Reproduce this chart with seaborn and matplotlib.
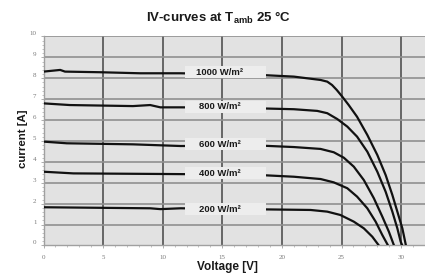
"""IV-curves of a PV module at Tamb 25 degC, five irradiance levels."""
import matplotlib

matplotlib.use("Agg")
import matplotlib.pyplot as plt
import matplotlib.transforms as mtransforms
from matplotlib.patches import Rectangle
from matplotlib.ticker import MultipleLocator
import pandas as pd
import seaborn as sns

# ---------------------------------------------------------------------------
# Data (voltage [V], current [A])
# ---------------------------------------------------------------------------
irradiance = ["1000 W/m²", "800 W/m²", "600 W/m²", "400 W/m²", "200 W/m²"]

v_1000 = [0, 1.4, 1.8, 4.75, 8.1, 11.5, 15, 18.2, 21.0, 23.24, 23.8, 24.2, 24.6,
          25.06, 25.6, 26.3, 27.16, 28.0, 28.7, 29.26, 29.68, 30.1, 30.4]
i_1000 = [8.32, 8.40, 8.32, 8.29, 8.24, 8.24, 8.20, 8.16, 8.08, 7.92, 7.84, 7.68, 7.44,
          7.12, 6.72, 6.16, 5.29, 4.33, 3.37, 2.42, 1.62, 0.82, 0.0]

v_800 = [0, 2.2, 7.5, 8.95, 9.8, 11.5, 15, 18.2, 21.0, 22.96, 23.8, 24.64, 25.48,
         26.3, 27.16, 28.0, 28.7, 29.26, 29.68, 29.96, 30.1]
i_800 = [6.80, 6.72, 6.67, 6.72, 6.61, 6.61, 6.60, 6.56, 6.52, 6.44, 6.33, 6.05, 5.69,
         5.21, 4.49, 3.53, 2.57, 1.62, 0.82, 0.18, 0.0]

v_600 = [0, 1.95, 7.5, 11.5, 15, 18.2, 21.0, 23.24, 24.35, 25.19, 26.03, 26.87,
         27.71, 28.42, 28.97, 29.4]
i_600 = [4.97, 4.89, 4.84, 4.76, 4.77, 4.78, 4.71, 4.62, 4.46, 4.20, 3.77, 3.13,
         2.26, 1.38, 0.66, 0.0]

v_400 = [0, 2.5, 10.35, 15, 18.2, 21.0, 23.24, 24.35, 25.48, 26.3, 27.16, 27.86,
         28.42, 28.9]
i_400 = [3.53, 3.45, 3.42, 3.40, 3.37, 3.29, 3.18, 3.02, 2.74, 2.34, 1.78, 1.14,
         0.50, 0.0]

v_200 = [0, 8.95, 9.8, 11.5, 15, 18.2, 22.4, 23.8, 24.9, 26.03, 26.87, 27.58, 28.13]
i_200 = [1.83, 1.78, 1.74, 1.78, 1.75, 1.73, 1.70, 1.62, 1.46, 1.14, 0.82, 0.42, 0.0]

label_y = [8.29, 6.64, 4.84, 3.45, 1.73]

x_ticks = [0, 5, 10, 15, 20, 25, 30]
y_ticks = list(range(0, 11))

# ---------------------------------------------------------------------------
# Long table for seaborn
# ---------------------------------------------------------------------------
curves = [(v_1000, i_1000), (v_800, i_800), (v_600, i_600), (v_400, i_400), (v_200, i_200)]
frames = []
for name, (v, i) in zip(irradiance, curves):
    frames.append(pd.DataFrame({"voltage": v, "current": i, "irradiance": name}))
df = pd.concat(frames, ignore_index=True)

sns.set_theme(style="whitegrid")
plt.rcParams["font.family"] = ["Liberation Sans", "DejaVu Sans"]
plt.rcParams["mathtext.fontset"] = "custom"
plt.rcParams["mathtext.bf"] = "Liberation Sans:bold"
plt.rcParams["mathtext.rm"] = "Liberation Sans:bold"
plt.rcParams["mathtext.default"] = "bf"

fig = plt.figure(figsize=(4.25, 2.75), dpi=100)
ax = fig.add_axes([0.1024, 0.1073, 0.8976, 0.760])
ax.set_facecolor("#e2e2e2")

sns.lineplot(
    data=df, x="voltage", y="current", hue="irradiance",
    palette=["#111111"] * len(irradiance), sort=False, estimator=None,
    legend=False, linewidth=1.6, ax=ax, zorder=3,
)

ax.set_xlim(0, 32)
ax.set_ylim(0, 10)
ax.set_xticks(x_ticks)
ax.set_yticks(y_ticks)
ax.xaxis.set_minor_locator(MultipleLocator(1))
ax.yaxis.set_minor_locator(MultipleLocator(0.2))

# grid: darker verticals, lighter horizontals
ax.grid(False)
for xv in x_ticks[1:]:
    ax.axvline(xv, color="#5c5c5c", lw=1.3, zorder=1)
for yv in y_ticks[1:]:
    ax.axhline(yv, color="#909090", lw=1.2, zorder=1)

for side in ["top", "right"]:
    ax.spines[side].set_visible(False)
for side in ["left", "bottom"]:
    ax.spines[side].set_color("#a0a0a0")
    ax.spines[side].set_linewidth(1.0)

ax.tick_params(axis="both", which="major", length=2.5, width=0.6, color="#a0a0a0",
               labelsize=5, labelcolor="#7a7a7a", pad=4)
ax.tick_params(axis="both", which="minor", length=1.5, width=0.5, color="#a8a8a8")
ax.tick_params(axis="y", which="both", left=True)
ax.tick_params(axis="x", which="both", bottom=True)
for lab in ax.get_xticklabels() + ax.get_yticklabels():
    lab.set_family(["Liberation Serif", "DejaVu Serif"])
# tick numbers on the y axis sit a little above their gridlines in the original
shift = mtransforms.ScaledTranslation(0.02, 3 / 100, fig.dpi_scale_trans)
for lab in ax.get_yticklabels():
    lab.set_transform(lab.get_transform() + shift)

# irradiance labels on light boxes covering the curves
for name, yv in zip(irradiance, label_y):
    ax.add_patch(Rectangle((11.9, yv - 0.29), 6.8, 0.58, facecolor="#ededed",
                           edgecolor="none", zorder=4))
    ax.text(14.8, yv, name, ha="center", va="center", fontsize=6.8,
            fontweight="bold", color="#1a1a1a", zorder=5)

ax.set_xlabel("")
ax.set_ylabel("")
fig.text(0.535, 0.006, "Voltage [V]", ha="center", va="bottom",
         fontsize=8.5, fontweight="bold", color="#1a1a1a")
fig.text(0.053, 0.495, "current [A]", ha="center", va="center", rotation=90,
         fontsize=8.2, fontweight="bold", color="#1a1a1a")
fig.text(0.515, 0.933, r"IV-curves at T$_{amb}$ 25 °C", ha="center", va="center",
         fontsize=9.5, fontweight="bold", color="#1a1a1a")

fig.savefig("out.png", dpi=100)
plt.close(fig)
